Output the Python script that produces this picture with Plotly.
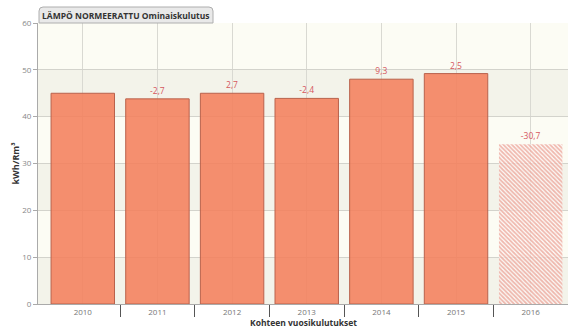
import plotly.graph_objects as go

# Annual normalised heat consumption (kWh/Rm³)
years = ["2010", "2011", "2012", "2013", "2014", "2015", "2016"]
values = [45.0, 43.8, 45.0, 43.9, 48.0, 49.2, 34.1]
change_labels = ["", "-2,7", "2,7", "-2,4", "9,3", "2,5", "-30,7"]
y_ticks = [0, 10, 20, 30, 40, 50, 60]

chart_title = "LÄMPÖ NORMEERATTU Ominaiskulutus"
x_title = "Kohteen vuosikulutukset"
y_title = "kWh/Rm³"

positions = list(range(len(years)))
n_full = len(years) - 1  # last year is still incomplete

BAR = "rgba(244,128,92,0.88)"
BAR_EDGE = "#b9624c"
LABEL = "#d5585e"
FONT = "Open Sans"

fig = go.Figure()

# completed years
fig.add_trace(go.Bar(
    x=positions[:n_full], y=values[:n_full], width=0.85,
    marker=dict(color=BAR, line=dict(color=BAR_EDGE, width=1)),
    text=change_labels[:n_full], textposition="outside", cliponaxis=False,
    textfont=dict(color=LABEL, size=8.5, family=FONT),
    hoverinfo="skip",
))
# current (incomplete) year, hatched
fig.add_trace(go.Bar(
    x=positions[n_full:], y=values[n_full:], width=0.85,
    marker=dict(color="rgba(255,255,255,0.7)", line=dict(width=0),
                pattern=dict(shape="\\", fgcolor="#e27462", bgcolor="rgba(255,255,255,0.7)",
                             size=3, solidity=0.6)),
    text=change_labels[n_full:], textposition="outside", cliponaxis=False,
    textfont=dict(color=LABEL, size=8.5, family=FONT),
    hoverinfo="skip",
))

# alternating horizontal bands behind the grid
shapes = []
for lo, hi in zip(y_ticks[:-1], y_ticks[1:]):
    shaded = (lo // 10) % 2 == 0
    shapes.append(dict(type="rect", xref="paper", yref="y", x0=0, x1=1, y0=lo, y1=hi,
                       fillcolor="#f3f3ea" if shaded else "#fcfcf4",
                       line=dict(width=0), layer="below"))

# title tab above the plot area
shapes.append(dict(type="path", xref="paper", yref="paper",
                   xsizemode="pixel", ysizemode="pixel", xanchor=0, yanchor=1,
                   path="M 1,0 L 1,12 Q 1,16 5,16 L 171,16 Q 175,16 175,12 L 175,0 Z",
                   fillcolor="#e9e9e9", line=dict(color="#aeaeae", width=1), layer="above"))

fig.update_layout(
    width=568, height=329,
    margin=dict(l=38, r=0, t=23, b=25),
    paper_bgcolor="white", plot_bgcolor="#fcfcf4",
    showlegend=False, barmode="overlay",
    font=dict(family=FONT, color="#777"),
    shapes=shapes,
    xaxis=dict(
        range=[-0.6, 6.5], tickvals=positions, ticktext=years,
        showgrid=True, gridcolor="#d9d9d2", gridwidth=1,
        ticks="", tickfont=dict(size=8, color="#777", family=FONT),
        ticklabelstandoff=0,
        showline=True, linecolor="#aaaaaa", linewidth=1,
        minor=dict(tickvals=[p + 0.5 for p in positions[:-1]], ticks="outside",
                   ticklen=12, tickcolor="#555", tickwidth=1, showgrid=False),
        zeroline=False, fixedrange=True,
    ),
    yaxis=dict(
        range=[0, 60], tickvals=y_ticks,
        showgrid=True, gridcolor="#d3d3cc", gridwidth=1,
        ticks="outside", ticklen=4, tickcolor="#aaaaaa",
        tickfont=dict(size=8, color="#888", family=FONT),
        showline=True, linecolor="#aaaaaa", linewidth=1,
        zeroline=False, fixedrange=True,
    ),
    annotations=[
        dict(text="<b>" + chart_title + "</b>", xref="paper", yref="paper",
             x=0, y=1, xanchor="center", yanchor="middle", xshift=88, yshift=8,
             showarrow=False, font=dict(size=8.5, color="#333", family=FONT)),
        dict(text="<b>" + x_title + "</b>", xref="paper", yref="paper",
             x=0.5, y=0, xanchor="center", yanchor="bottom", yshift=-25, borderpad=0,
             showarrow=False, font=dict(size=8.5, color="#333", family=FONT)),
        dict(text="<b>" + y_title + "</b>", xref="paper", yref="paper",
             x=0, y=0.5, xanchor="center", yanchor="middle", xshift=-23, textangle=-90,
             showarrow=False, font=dict(size=9, color="#333", family=FONT)),
    ],
)

fig.write_html("out.html")
